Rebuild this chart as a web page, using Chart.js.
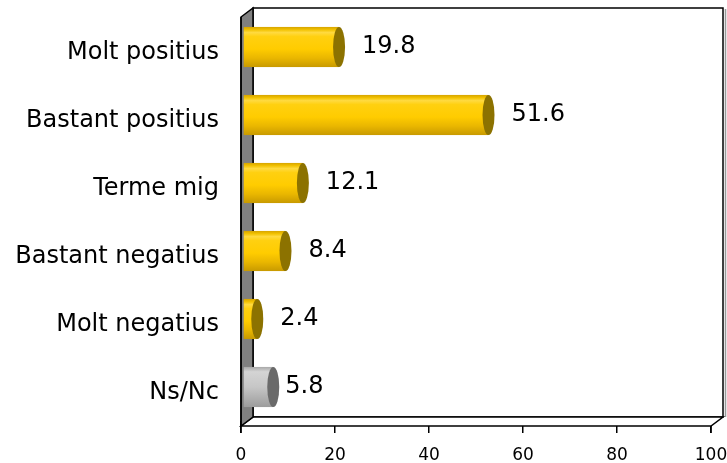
<!DOCTYPE html>
<html>
<head>
<meta charset="utf-8">
<script src="https://cdn.jsdelivr.net/npm/chart.js@4.4.1/dist/chart.umd.min.js"></script>
<style>
  body { margin: 0; background: #fff; }
  #myChart1 { display: block; }
</style>
</head>
<body>
<canvas id="myChart1" width="727" height="463"></canvas>
<script>
var categories = ['Molt positius', 'Bastant positius', 'Terme mig', 'Bastant negatius', 'Molt negatius', 'Ns/Nc'];
var values = [19.8, 51.6, 12.1, 8.4, 2.4, 5.8];
var barKinds = ['gold', 'gold', 'gold', 'gold', 'gold', 'grey'];
var xTicks = [0, 20, 40, 60, 80, 100];

var FONT = '"DejaVu Sans", Verdana, sans-serif';

// 3d box: side wall, back wall and floor
var frame3d = {
    id: 'frame3d',
    beforeDatasetsDraw: function(chart) {
        var ctx = chart.ctx;
        var area = chart.chartArea;
        var xs = chart.scales.x;
        var fl = xs.getPixelForValue(0), fr = xs.getPixelForValue(100);
        var ft = area.top + 4, fb = area.bottom + 5;
        var dx = 12, dy = 9;
        ctx.save();
        ctx.lineWidth = 1.5;
        ctx.strokeStyle = '#000';
        // back wall
        ctx.fillStyle = '#fff';
        ctx.fillRect(fl + dx, ft - dy, fr - fl, fb - ft);
        ctx.strokeStyle = '#999';
        ctx.beginPath();
        ctx.moveTo(fr + dx + 2.5, ft - dy + 1);
        ctx.lineTo(fr + dx + 2.5, fb - dy);
        ctx.stroke();
        ctx.strokeStyle = '#000';
        ctx.strokeRect(fl + dx, ft - dy, fr - fl, fb - ft);
        // floor
        ctx.beginPath();
        ctx.moveTo(fl, fb);
        ctx.lineTo(fl + dx, fb - dy);
        ctx.lineTo(fr + dx, fb - dy);
        ctx.lineTo(fr, fb);
        ctx.closePath();
        ctx.fillStyle = '#fff';
        ctx.fill();
        ctx.stroke();
        // side wall
        ctx.beginPath();
        ctx.moveTo(fl, ft);
        ctx.lineTo(fl + dx, ft - dy);
        ctx.lineTo(fl + dx, fb - dy);
        ctx.lineTo(fl, fb);
        ctx.closePath();
        ctx.fillStyle = '#808080';
        ctx.fill();
        ctx.stroke();
        // front axis line
        ctx.beginPath();
        ctx.moveTo(fl, ft);
        ctx.lineTo(fl, fb + 7);
        ctx.moveTo(fr, fb);
        ctx.lineTo(fr, fb + 7);
        ctx.stroke();
        ctx.restore();
    }
};

// cylinders + value labels
var cylinders = {
    id: 'cylinders',
    afterDatasetsDraw: function(chart) {
        var ctx = chart.ctx;
        var meta = chart.getDatasetMeta(0);
        meta.data.forEach(function(el, i) {
            var p = el.getProps(['x', 'y', 'base', 'height'], true);
            var xs = p.base + 2, xe = p.x + 5;
            var top = p.y - p.height / 2, h = p.height;
            var g = ctx.createLinearGradient(0, top, 0, top + h);
            var cap;
            if (barKinds[i] == 'gold') {
                g.addColorStop(0, '#D6A400');
                g.addColorStop(0.07, '#F2C200');
                g.addColorStop(0.14, '#FFDA40');
                g.addColorStop(0.24, '#FFD010');
                g.addColorStop(0.55, '#FFCC00');
                g.addColorStop(0.78, '#E9B600');
                g.addColorStop(1, '#C89A00');
                cap = '#8C7200';
            } else {
                g.addColorStop(0, '#A8A8A8');
                g.addColorStop(0.12, '#D4D4D4');
                g.addColorStop(0.5, '#C6C6C6');
                g.addColorStop(1, '#9C9C9C');
                cap = '#6A6A6A';
            }
            ctx.save();
            ctx.fillStyle = g;
            ctx.fillRect(xs, top, xe - xs, h);
            ctx.beginPath();
            ctx.ellipse(xe, p.y, 6, h / 2, 0, 0, Math.PI * 2);
            ctx.fillStyle = cap;
            ctx.fill();
            ctx.fillStyle = '#000';
            ctx.font = '24px ' + FONT;
            ctx.textAlign = 'left';
            ctx.textBaseline = 'middle';
            var off = barKinds[i] == 'gold' ? 28 : 17;
            ctx.fillText(values[i].toFixed(1), p.x + off, p.y);
            ctx.restore();
        });
    }
};

var ctx = document.getElementById('myChart1').getContext('2d');
var myChart = new Chart(ctx, {
    type: 'bar',
    data: {
        labels: categories,
        datasets: [{
            data: values,
            backgroundColor: 'rgba(0,0,0,0)',
            borderWidth: 0,
            barPercentage: 0.59,
            categoryPercentage: 1
        }]
    },
    options: {
        indexAxis: 'y',
        responsive: false,
        animation: false,
        devicePixelRatio: 1,
        layout: { padding: { top: 13, right: 16, left: 0, bottom: 0 } },
        plugins: { legend: { display: false }, tooltip: { enabled: false } },
        scales: {
            x: {
                min: 0,
                max: 100,
                afterBuildTicks: function(s) {
                    s.ticks = xTicks.map(function(v) { return { value: v }; });
                },
                afterFit: function(s) {
                    s.height = 42;
                    s.paddingLeft = 0;
                    s.paddingRight = 0;
                },
                ticks: { color: '#000', padding: 12, font: { family: FONT, size: 17 } },
                grid: { drawOnChartArea: false, drawTicks: true, tickLength: 12, color: '#000', lineWidth: 1.5 },
                border: { display: false }
            },
            y: {
                afterFit: function(s) {
                    s.width = 241;
                    s.paddingTop = 0;
                    s.paddingBottom = 0;
                },
                ticks: { color: '#000', padding: 22, labelOffset: 6, font: { family: FONT, size: 24 } },
                grid: { display: false, drawTicks: false },
                border: { display: false }
            }
        }
    },
    plugins: [frame3d, cylinders]
});
console.log("Done");
</script>
</body>
</html>
